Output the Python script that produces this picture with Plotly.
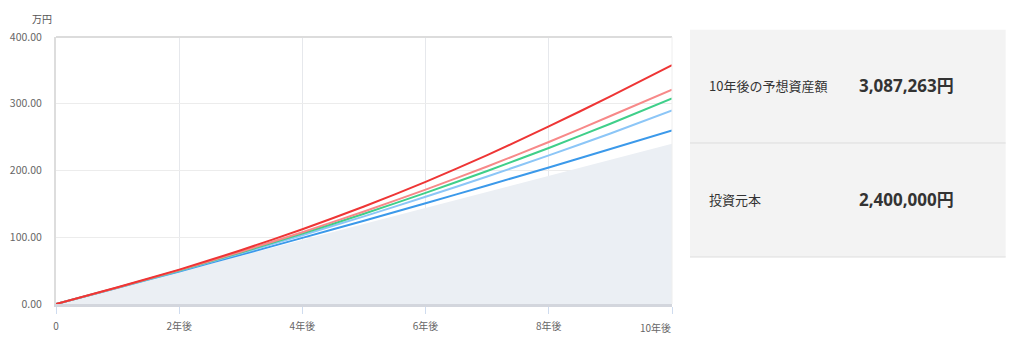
import plotly.graph_objects as go

years = [0, 1, 2, 3, 4, 5, 6, 7, 8, 9, 10]
principal = [0, 24, 48, 72, 96, 120, 144, 168, 192, 216, 240]
blue = [0, 24.2, 48.8, 73.7, 99.1, 124.8, 151, 177.6, 204.6, 232.1, 260]
light_blue = [0, 24.4, 49.7, 75.9, 103.1, 131.3, 160.6, 191.0, 222.6, 255.5, 290]
green = [0, 24.5, 50.2, 77.2, 105.5, 135.2, 166.5, 199.3, 233.8, 270, 308]
pink = [0, 24.7, 50.8, 78.4, 107.6, 138.6, 171.3, 206, 242.7, 281.6, 321]
red = [0, 25, 51.5, 80.5, 112, 146, 183, 223, 266, 311, 358]

x_tickvals = [0, 2, 4, 6, 8, 10]
x_ticktext = ["0", "2年後", "4年後", "6年後", "8年後", "10年後"]
y_tickvals = [0, 100, 200, 300, 400]
y_ticktext = ["0.00", "100.00", "200.00", "300.00", "400.00"]

summary_labels = ["10年後の予想資産額", "投資元本"]
summary_values = ["3,087,263円", "2,400,000円"]

FONT = "Noto Sans CJK JP"

fig = go.Figure()
fig.add_trace(go.Scatter(x=years, y=principal, mode="lines", fill="tozeroy",
                         fillcolor="#ebeff4", line=dict(width=0, color="#ebeff4"),
                         hoverinfo="skip", showlegend=False))
series = [
    (blue, "#3b99ea"),
    (light_blue, "#8cc6f7"),
    (green, "#3fcf8a"),
    (pink, "#f78989"),
    (red, "#ee3535"),
]
for vals, col in series:
    fig.add_trace(go.Scatter(x=years, y=vals, mode="lines",
                             line=dict(color=col, width=2, shape="spline", smoothing=0.6),
                             hoverinfo="skip", showlegend=False))

# last x tick label is drawn right-aligned to the axis end
shown_ticktext = x_ticktext[:-1] + [""]

fig.update_layout(
    width=1024, height=348,
    margin=dict(l=56, r=352, t=37, b=44),
    paper_bgcolor="white", plot_bgcolor="white",
    font=dict(family=FONT, color="#666666", size=10),
    showlegend=False,
    xaxis=dict(range=[0, 10], tickvals=x_tickvals, ticktext=shown_ticktext,
               showgrid=True, gridcolor="#e6e8ec", gridwidth=1,
               showline=True, linecolor="#d3d6dd", linewidth=3,
               ticks="outside", ticklen=7, tickcolor="#cfdcef", tickwidth=1,
               ticklabelstandoff=4, zeroline=False, automargin=False,
               tickfont=dict(size=10, color="#666666")),
    yaxis=dict(range=[0, 400], tickvals=y_tickvals, ticktext=y_ticktext,
               showgrid=True, gridcolor="#ececec", gridwidth=1,
               showline=True, linecolor="#dddddd", linewidth=2,
               ticks="", ticklabelstandoff=10, zeroline=False, automargin=False,
               tickfont=dict(size=10.5, color="#666666")),
    shapes=[
        dict(type="line", xref="paper", yref="paper", x0=0, x1=1, y0=1, y1=1,
             line=dict(color="#dcdcdc", width=2)),
        dict(type="line", xref="paper", yref="paper", x0=1, x1=1, y0=0, y1=1,
             line=dict(color="#eeeeee", width=1)),
        dict(type="rect", xref="paper", yref="paper", x0=1.0292, x1=1.5417,
             y0=0.176, y1=1.027, fillcolor="#f3f3f3", line=dict(width=0), layer="below"),
        dict(type="line", xref="paper", yref="paper", x0=1.0292, x1=1.5417,
             y0=0.603, y1=0.603, line=dict(color="#dddddd", width=1)),
        dict(type="line", xref="paper", yref="paper", x0=1.0292, x1=1.5417,
             y0=0.176, y1=0.176, line=dict(color="#dddddd", width=1)),
    ],
)

fig.add_annotation(text=x_ticktext[-1], xref="x", yref="paper", x=x_tickvals[-1], y=0,
                   yshift=-23, xanchor="right", yanchor="middle", showarrow=False,
                   xshift=1, font=dict(family=FONT, size=10, color="#666666"))

fig.add_annotation(text="万円", xref="paper", yref="paper", x=-0.003, y=1.0,
                   yshift=19, xanchor="right", yanchor="middle", showarrow=False,
                   font=dict(family=FONT, size=10, color="#555555"))

label_y = [0.818, 0.391]
for lab, val, yy in zip(summary_labels, summary_values, label_y):
    fig.add_annotation(text=lab, xref="paper", yref="paper", x=(707 - 56) / 616, y=yy,
                       xanchor="left", yanchor="middle", showarrow=False,
                       font=dict(family=FONT, size=13, color="#333333"))
    fig.add_annotation(text="<b>" + val + "</b>", xref="paper", yref="paper",
                       x=(857 - 56) / 616, y=yy, xanchor="left", yanchor="middle",
                       showarrow=False,
                       font=dict(family="Open Sans, " + FONT, size=17, color="#333333"))

fig.write_html("out.html")
